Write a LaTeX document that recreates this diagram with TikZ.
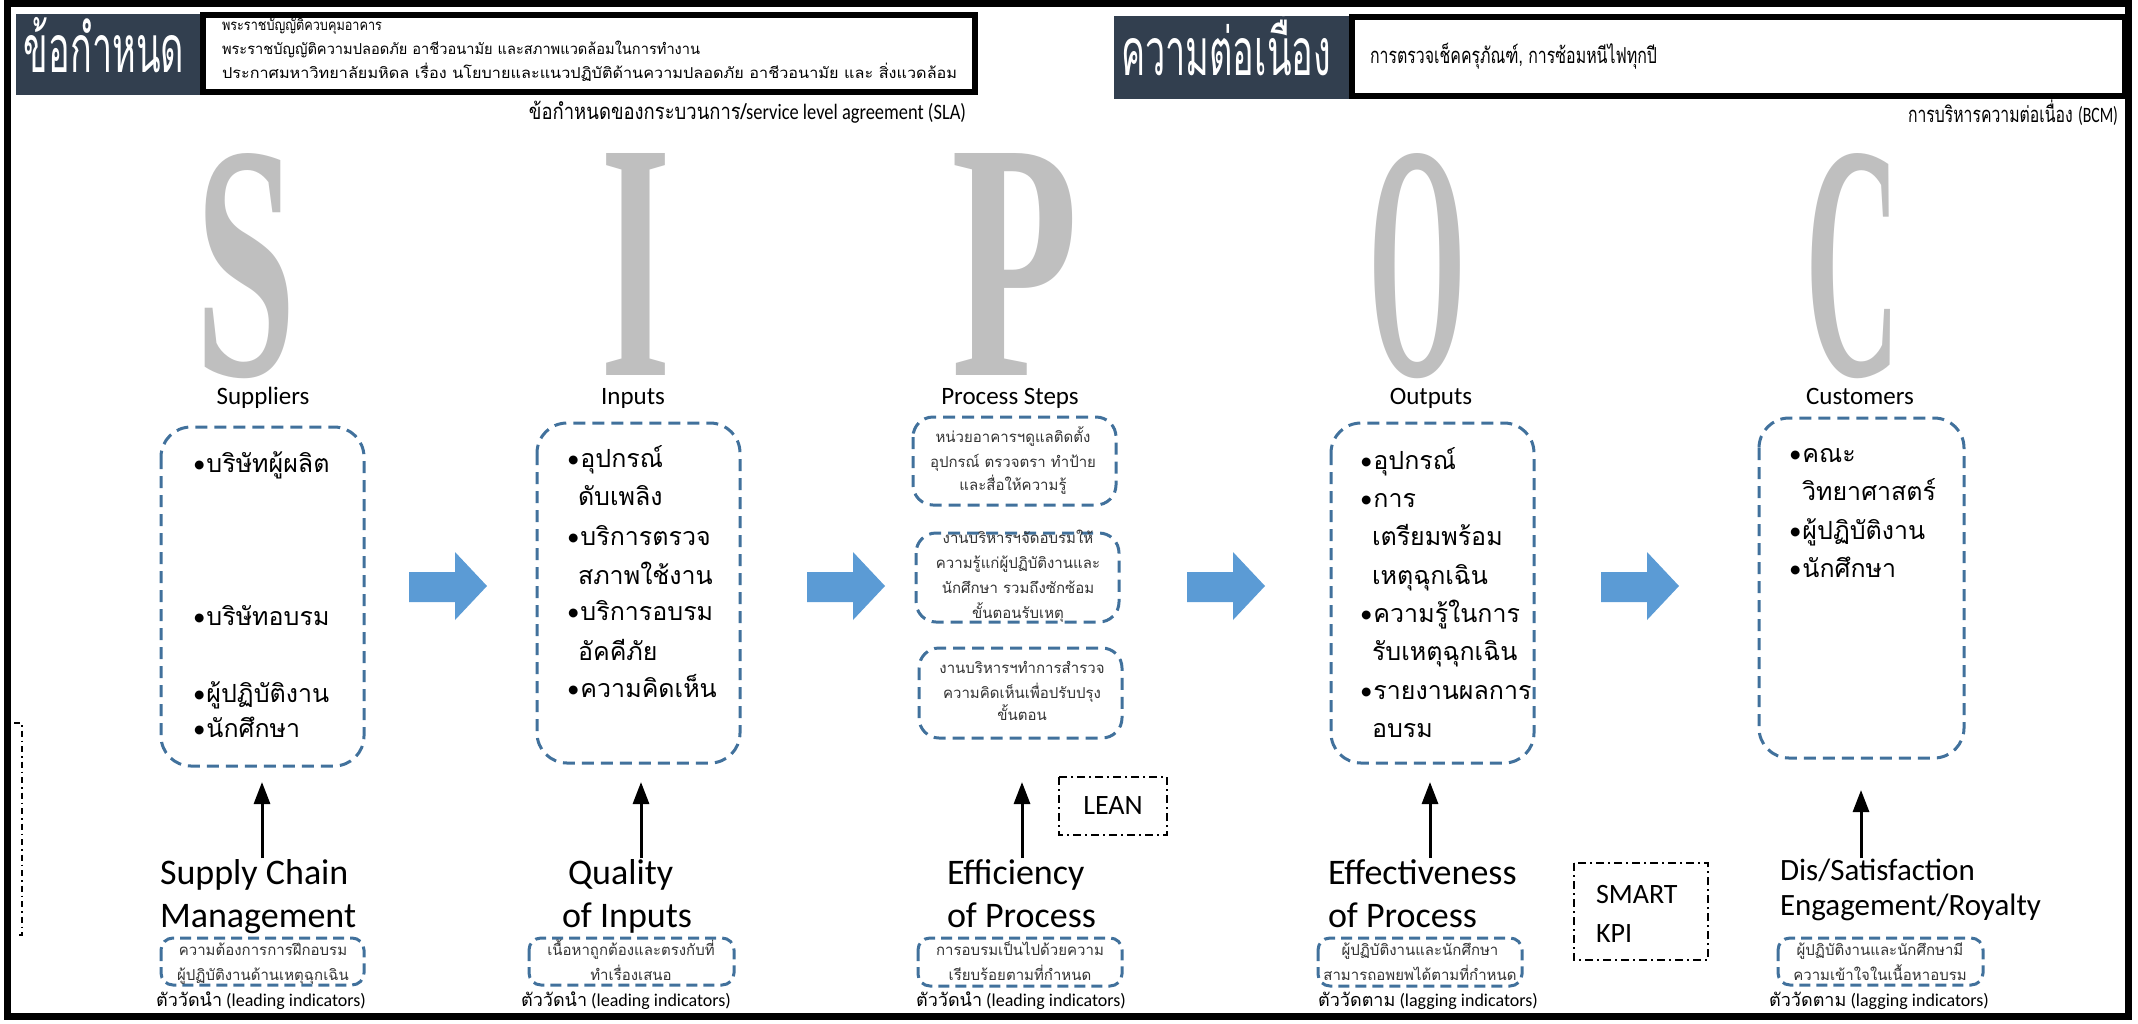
\documentclass[tikz,border=0pt]{standalone}
\usepackage{fontspec}
\usepackage{graphicx}
\setmainfont{Carlito}
\newfontfamily\thai[Script=Thai]{Loma}
\newfontfamily\bigserif{Liberation Serif}
\usetikzlibrary{arrows.meta}
\definecolor{hdr}{RGB}{50,63,79}
\definecolor{sipoc}{RGB}{191,191,191}
\definecolor{dashblue}{RGB}{65,113,156}
\definecolor{arrblue}{RGB}{91,155,213}
\definecolor{smallgray}{RGB}{50,50,50}
\newcommand{\fitw}[2]{\resizebox{#1}{\height}{#2}}
\newcommand{\bul}{{\fontspec{Carlito}\textbullet}\kern1pt}
\tikzset{
  every node/.style={inner sep=0pt, outer sep=0pt},
  hdrbox/.style={fill=hdr, draw=none},
  framebox/.style={draw=black, line width=6pt},
  dbox/.style={draw=dashblue, line width=3pt, dash pattern=on 12pt off 7pt, rounded corners=30pt},
  pbox/.style={draw=dashblue, line width=3pt, dash pattern=on 12pt off 7pt, rounded corners=20pt},
  sbox/.style={draw=dashblue, line width=3pt, dash pattern=on 11pt off 6pt, rounded corners=12pt},
  ddbox/.style={draw=black, line width=2pt, dash pattern=on 8pt off 4pt on 2pt off 4pt},
  blockarrow/.style={fill=arrblue, draw=none},
  uparrow/.style={draw=black, line width=3pt, -{Triangle[width=16pt,length=22pt]}},
  catlabel/.style={font=\fontsize{25}{30}\selectfont, anchor=base},
  item/.style={font=\thai\fontsize{25}{30}\selectfont, anchor=base west},
  ptext/.style={font=\thai\fontsize{15}{18}\selectfont, text=smallgray, anchor=base},
  stext/.style={font=\thai\fontsize{15}{18}\selectfont, text=smallgray, anchor=base},
  bigtext/.style={font=\fontsize{36}{40}\selectfont, anchor=base west},
  captext/.style={font=\fontsize{18}{22}\selectfont, anchor=base},
  hdrtext/.style={font=\thai\fontsize{15}{18}\selectfont, anchor=base west},
  notetext/.style={font=\thai\fontsize{22}{24}\selectfont},
  letter/.style={text=sipoc, font=\bigserif\bfseries\fontsize{300}{300}\selectfont, anchor=base},
}
\begin{document}
\begin{tikzpicture}[x=1pt,y=-1pt]
\useasboundingbox (0,0) rectangle (2138,1023);
% outer frame
\draw[line width=7pt] (7.5,3.5) rectangle (2128.5,1016);
% left bracket
\draw[line width=1.8pt, dash pattern=on 6pt off 4pt on 1.5pt off 4pt] (14,723) -- (22,723) -- (22,935) -- (17,935);

% ===== header left =====
\node[hdrbox, minimum width=184pt, minimum height=81pt, anchor=north west] (hL) at (16,14) {};
\node[text=white, font=\thai\fontsize{66}{70}\selectfont, anchor=base] (hLt) at (104,72) {\fitw{160pt}{ข้อกำหนด}};
\draw[framebox] (203,15) rectangle (975,92);
\node[hdrtext] (r1) at (222,30) {\fitw{160pt}{พระราชบัญญัติควบคุมอาคาร}};
\node[hdrtext] (r2) at (222,54) {\fitw{478pt}{พระราชบัญญัติความปลอดภัย อาชีวอนามัย และสภาพแวดล้อมในการทำงาน}};
\node[hdrtext] (r3) at (222,78) {\fitw{735pt}{ประกาศมหาวิทยาลัยมหิดล เรื่อง นโยบายและแนวปฏิบัติด้านความปลอดภัย อาชีวอนามัย และ สิ่งแวดล้อม}};
\node[notetext, anchor=base east] (sla) at (966,119) {\fitw{437pt}{ข้อกำหนดของกระบวนการ/{\fontspec{Carlito}service level agreement (SLA)}}};

% ===== header right =====
\node[hdrbox, minimum width=236pt, minimum height=83pt, anchor=north west] (hR) at (1114,16) {};
\node[text=white, font=\thai\fontsize{66}{70}\selectfont, anchor=base] (hRt) at (1226,75) {\fitw{210pt}{ความต่อเนื่อง}};
\draw[framebox] (1352,17) rectangle (2125,96);
\node[font=\thai\fontsize{22}{24}\selectfont, anchor=base west] (bc) at (1370,63) {\fitw{287pt}{การตรวจเช็คครุภัณฑ์, การซ้อมหนีไฟทุกปี}};
\node[notetext, anchor=base east] (bcm) at (2118,122) {\fitw{210pt}{การบริหารความต่อเนื่อง {\fontspec{Carlito}(BCM)}}};

% ===== SIPOC letters =====
\node[letter] (LS) at (246,375) {\resizebox{101pt}{222pt}{S}};
\node[letter] (LI) at (636,375) {\resizebox{71pt}{222pt}{I}};
\node[letter] (LP) at (1015,375) {\resizebox{127pt}{222pt}{P}};
\node[letter] (LO) at (1417,375) {\resizebox{98pt}{222pt}{O}};
\node[letter] (LC) at (1853,375) {\resizebox{95pt}{222pt}{C}};

% ===== category labels =====
\node[catlabel] (cS) at (263,404) {Suppliers};
\node[catlabel] (cI) at (633,404) {Inputs};
\node[catlabel] (cP) at (1010,404) {Process Steps};
\node[catlabel] (cO) at (1431,404) {Outputs};
\node[catlabel] (cC) at (1860,404) {Customers};

% ===== boxes =====
\draw[dbox] (161,427) rectangle (364,766);
\draw[dbox] (537,423) rectangle (740,763);
\draw[pbox] (913,417) rectangle (1116,505);
\draw[pbox] (916,533) rectangle (1119,622);
\draw[pbox] (919,648) rectangle (1122,738);
\draw[dbox] (1331,423) rectangle (1534,763);
\draw[dbox] (1759,418) rectangle (1964,758);

% Suppliers items
\node[item] (s1) at (193,472) {\bul บริษัทผู้ผลิต};
\node[item] (s2) at (193,625) {\bul บริษัทอบรม};
\node[item] (s3) at (193,702) {\bul ผู้ปฏิบัติงาน};
\node[item] (s4) at (193,737) {\bul นักศึกษา};
% Inputs items
\node[item] (i1) at (567,467) {\bul อุปกรณ์};
\node[item] (i2) at (578,505) {ดับเพลิง};
\node[item] (i3) at (567,545) {\bul บริการตรวจ};
\node[item] (i4) at (578,584) {สภาพใช้งาน};
\node[item] (i5) at (567,620) {\bul บริการอบรม};
\node[item] (i6) at (578,660) {อัคคีภัย};
\node[item] (i7) at (567,697) {\bul ความคิดเห็น};
% Process items
\node[ptext] (p11) at (1013,442) {หน่วยอาคารฯดูแลติดตั้ง};
\node[ptext] (p12) at (1013,467) {อุปกรณ์ ตรวจตรา ทำป้าย};
\node[ptext] (p13) at (1013,490) {และสื่อให้ความรู้};
\node[ptext] (p21) at (1018,543) {งานบริหารฯจัดอบรมให้};
\node[ptext] (p22) at (1018,568) {ความรู้แก่ผู้ปฏิบัติงานและ};
\node[ptext] (p23) at (1018,593) {นักศึกษา รวมถึงซักซ้อม};
\node[ptext] (p24) at (1018,618) {ขั้นตอนรับเหตุ};
\node[ptext] (p31) at (1022,673) {งานบริหารฯทำการสำรวจ};
\node[ptext] (p32) at (1022,698) {ความคิดเห็นเพื่อปรับปรุง};
\node[ptext] (p33) at (1022,720) {ขั้นตอน};
% Outputs items
\node[item] (o1) at (1360,469) {\bul อุปกรณ์};
\node[item] (o2) at (1360,507) {\bul การ};
\node[item] (o3) at (1372,545) {เตรียมพร้อม};
\node[item] (o4) at (1372,584) {เหตุฉุกเฉิน};
\node[item] (o5) at (1360,622) {\bul ความรู้ในการ};
\node[item] (o6) at (1372,660) {รับเหตุฉุกเฉิน};
\node[item] (o7) at (1360,699) {\bul รายงานผลการ};
\node[item] (o8) at (1372,737) {อบรม};
% Customers items
\node[item] (u1) at (1789,462) {\bul คณะ};
\node[item] (u2) at (1802,500) {วิทยาศาสตร์};
\node[item] (u3) at (1789,539) {\bul ผู้ปฏิบัติงาน};
\node[item] (u4) at (1789,577) {\bul นักศึกษา};

% ===== block arrows =====
\foreach \x in {409,807,1187,1601}{
  \fill[blockarrow] (\x,572) -- (\x+46,572) -- (\x+46,552) -- (\x+78,586) -- (\x+46,620) -- (\x+46,602) -- (\x,602) -- cycle;
}

% ===== LEAN / SMART KPI =====
\draw[ddbox] (1059,777) rectangle (1167,835);
\node[font=\fontsize{28}{30}\selectfont] (lean) at (1113,806) {LEAN};
\draw[ddbox] (1574,863) rectangle (1708,960);
\node[font=\fontsize{28}{30}\selectfont, anchor=base west] (smart) at (1596,903) {SMART};
\node[font=\fontsize{28}{30}\selectfont, anchor=base west] (kpi) at (1596,942) {KPI};

% ===== big texts =====
\node[bigtext] (b1a) at (160,884) {Supply Chain};
\node[bigtext] (b1b) at (160,927) {Management};
\node[bigtext] (b2a) at (568,884) {Quality};
\node[bigtext] (b2b) at (562,927) {of Inputs};
\node[bigtext] (b3a) at (947,884) {Efficiency};
\node[bigtext] (b3b) at (947,927) {of Process};
\node[bigtext] (b4a) at (1328,884) {Effectiveness};
\node[bigtext] (b4b) at (1328,927) {of Process};
\node[bigtext, font=\fontsize{31}{34}\selectfont] (b5a) at (1780,880) {Dis/Satisfaction};
\node[bigtext, font=\fontsize{31}{34}\selectfont] (b5b) at (1780,915) {Engagement/Royalty};

% ===== up arrows =====
\coordinate (t1) at (262,782); \coordinate (f1) at (262,858);
\coordinate (t2) at (641,782); \coordinate (f2) at (641,858);
\coordinate (t3) at (1022,782); \coordinate (f3) at (1022,858);
\coordinate (t4) at (1430,782); \coordinate (f4) at (1430,858);
\coordinate (t5) at (1861,790); \coordinate (f5) at (1861,858);
\foreach \i in {1,...,5}{ \draw[uparrow] (f\i) -- (t\i); }

% ===== small bottom boxes =====
\draw[sbox] (161,938) rectangle (364,985);
\draw[sbox] (529,938) rectangle (734,985);
\draw[sbox] (918,938) rectangle (1122,986);
\draw[sbox] (1318,938) rectangle (1522,986);
\draw[sbox] (1778,938) rectangle (1983,985);
\node[stext] (m11) at (263,955) {ความต้องการการฝึกอบรม};
\node[stext] (m12) at (263,980) {ผู้ปฏิบัติงานด้านเหตุฉุกเฉิน};
\node[stext] (m21) at (631,955) {เนื้อหาถูกต้องและตรงกับที่};
\node[stext] (m22) at (631,980) {ทำเรื่องเสนอ};
\node[stext] (m31) at (1020,955) {การอบรมเป็นไปด้วยความ};
\node[stext] (m32) at (1020,980) {เรียบร้อยตามที่กำหนด};
\node[stext] (m41) at (1420,955) {ผู้ปฏิบัติงานและนักศึกษา};
\node[stext] (m42) at (1420,980) {สามารถอพยพได้ตามที่กำหนด};
\node[stext] (m51) at (1880,955) {ผู้ปฏิบัติงานและนักศึกษามี};
\node[stext] (m52) at (1880,980) {ความเข้าใจในเนื้อหาอบรม};

% ===== captions =====
\node[captext] (k1) at (261,1006) {{\thai ตัววัดนำ} (leading indicators)};
\node[captext] (k2) at (626,1006) {{\thai ตัววัดนำ} (leading indicators)};
\node[captext] (k3) at (1021,1006) {{\thai ตัววัดนำ} (leading indicators)};
\node[captext] (k4) at (1428,1006) {{\thai ตัววัดตาม} (lagging indicators)};
\node[captext] (k5) at (1879,1006) {{\thai ตัววัดตาม} (lagging indicators)};
\end{tikzpicture}
\end{document}
